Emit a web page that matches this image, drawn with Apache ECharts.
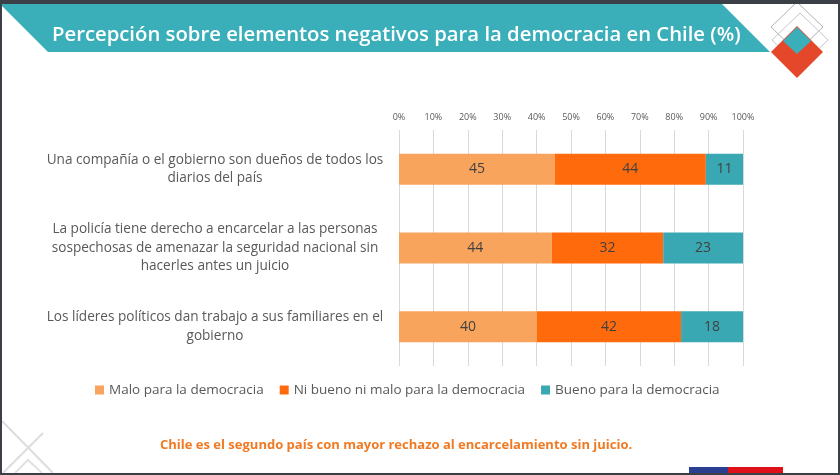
<!DOCTYPE html>
<html>
<head>
<meta charset="utf-8">
<script src="https://cdn.jsdelivr.net/npm/echarts@6/dist/echarts.min.js"></script>
<style>
html,body{margin:0;padding:0;background:#fff;}
#c{width:840px;height:475px;}
</style>
</head>
<body>
<div id="c"></div>
<script>
const categories = [
  "Una compañía o el gobierno son dueños de todos los\ndiarios del país",
  "La policía tiene derecho a encarcelar a las personas\nsospechosas de amenazar la seguridad nacional sin\nhacerles antes un juicio",
  "Los líderes políticos dan trabajo a sus familiares en el\ngobierno"
];
const seriesNames = ["Malo para la democracia", "Ni bueno ni malo para la democracia", "Bueno para la democracia"];
const malo = [45.3, 44.4, 40.1];
const niBuenoNiMalo = [43.9, 32.4, 41.9];
const bueno = [10.8, 23.2, 18.0];
const titleText = "Percepción sobre elementos negativos para la democracia en Chile (%)";
const noteText = "Chile es el segundo país con mayor rechazo al encarcelamiento sin juicio.";

const colors = ["#F9A45C", "#FF6A0D", "#3AA8B3"];
const FONT = "Open Sans";

const chart = echarts.init(document.getElementById('c'), null, {renderer: 'canvas'});

function mkSeries(name, data, color) {
  return {
    name: name, type: 'bar', stack: 'total', data: data, barWidth: 31,
    itemStyle: {color: color},
    label: {show: true, position: 'inside', color: '#404040', fontSize: 14, fontFamily: FONT,
      formatter: p => Math.round(p.value)},
    emphasis: {disabled: true}
  };
}

chart.setOption({
  animation: false,
  backgroundColor: '#ffffff',
  grid: {left: 399, right: 97, top: 130, bottom: 109, containLabel: false},
  xAxis: {
    type: 'value', position: 'top', min: 0, max: 100, interval: 10,
    axisLine: {show: false}, axisTick: {show: false},
    axisLabel: {formatter: '{value}%', fontSize: 9, color: '#595959', fontFamily: FONT, margin: 8},
    splitLine: {lineStyle: {color: '#d9d9d9', width: 1}}
  },
  yAxis: {
    type: 'category', inverse: true, data: categories,
    axisLine: {show: false}, axisTick: {show: false},
    axisLabel: {fontSize: 13.6, color: '#595959', fontFamily: FONT, align: 'center', margin: 184, lineHeight: 18.5}
  },
  legend: {
    data: seriesNames, top: 378, left: 90, itemWidth: 9, itemHeight: 9, itemGap: 16,
    icon: 'rect', textStyle: {fontSize: 13.5, color: '#595959', fontFamily: FONT}
  },
  series: [
    mkSeries(seriesNames[0], malo, colors[0]),
    mkSeries(seriesNames[1], niBuenoNiMalo, colors[1]),
    mkSeries(seriesNames[2], bueno, colors[2])
  ],
  graphic: {elements: [
    {type: 'rect', shape: {x: 0, y: 0, width: 840, height: 4}, style: {fill: '#3b4046'}, z: 10},
    {type: 'rect', shape: {x: 0, y: 0, width: 2, height: 475}, style: {fill: '#3b4046'}, z: 10},
    {type: 'rect', shape: {x: 838, y: 0, width: 2, height: 475}, style: {fill: '#3b4046'}, z: 10},
    {type: 'rect', shape: {x: 0, y: 473, width: 840, height: 2}, style: {fill: '#3b4046'}, z: 10},
    {type: 'polygon', shape: {points: [[0, 4], [722, 4], [770, 52], [48, 52]]}, style: {fill: '#3AAFB9'}, z: 5},
    {type: 'text', left: 52, top: 25, style: {text: titleText, fill: '#ffffff', font: '600 20.3px "Open Sans"'}, z: 6},
    // logo outlines
    {type: 'polygon', shape: {points: [[797, 2], [823, 27], [797, 52], [771, 27]]}, style: {fill: 'none', stroke: '#a9b3b8', lineWidth: 1}, z: 6},
    {type: 'polygon', shape: {points: [[800, 13], [828, 40], [800, 67], [772, 40]]}, style: {fill: 'none', stroke: '#c2c8cc', lineWidth: 1}, z: 6},
    {type: 'polygon', shape: {points: [[797, 26], [823, 52], [797, 78], [771, 52]]}, style: {fill: '#E5472A'}, z: 7},
    {type: 'polygon', shape: {points: [[797, 27], [811, 41], [797, 54], [783, 41]]}, style: {fill: '#3AAFB9'}, z: 8},
    // bottom-left decoration
    {type: 'line', shape: {x1: 2, y1: 421, x2: 53, y2: 473}, style: {stroke: '#dddddd', lineWidth: 2}, z: 1},
    {type: 'line', shape: {x1: 43, y1: 433, x2: 3, y2: 473}, style: {stroke: '#dddddd', lineWidth: 2}, z: 1},
    {type: 'polyline', shape: {points: [[15, 473], [28, 460], [42, 473]]}, style: {stroke: '#e2e2e2', lineWidth: 2, fill: 'none'}, z: 1},
    {type: 'text', left: 160, top: 439, style: {text: noteText, fill: '#F07A24', font: 'bold 13px "Open Sans"'}, z: 6},
    // flag stripe
    {type: 'rect', shape: {x: 689, y: 467, width: 39, height: 6}, style: {fill: '#2a3f8f'}, z: 6},
    {type: 'rect', shape: {x: 728, y: 467, width: 55, height: 6}, style: {fill: '#e0101a'}, z: 6}
  ]}
});
</script>
</body>
</html>
